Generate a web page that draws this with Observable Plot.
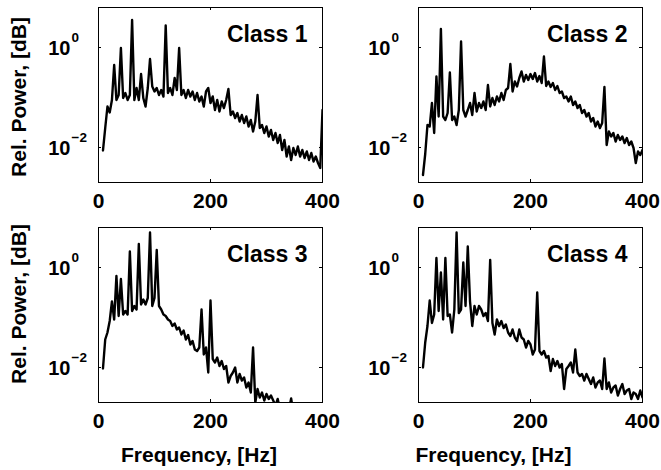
<!DOCTYPE html>
<html>
<head>
<meta charset="utf-8">
<script src="https://cdn.jsdelivr.net/npm/d3@7"></script>
<script src="https://cdn.jsdelivr.net/npm/@observablehq/plot@0.6"></script>
<style>
  html, body { margin: 0; padding: 0; background: #fff; }
  #fig { position: relative; width: 661px; height: 470px; overflow: hidden; background: #fff; }
  #fig svg { position: absolute; }
</style>
</head>
<body>
<div id="fig"></div>
<script>
// ---- data ----
const frequencyHz = [
  8, 12, 16, 20, 24, 28, 32, 36, 40, 44,
  48, 52, 56, 60, 64, 68, 72, 76, 80, 84,
  88, 92, 96, 100, 104, 108, 112, 116, 120, 124,
  128, 132, 136, 140, 144, 148, 152, 156, 160, 164,
  168, 172, 176, 180, 184, 188, 192, 196, 200, 204,
  208, 212, 216, 220, 224, 228, 232, 236, 240, 244,
  248, 252, 256, 260, 264, 268, 272, 276, 280, 284,
  288, 292, 296, 300, 304, 308, 312, 316, 320, 324,
  328, 332, 336, 340, 344, 348, 352, 356, 360, 364,
  368, 372, 376, 380, 384, 388, 392, 396, 400
];

// log10 of relative power, one value per frequency bin
const class1Log10Power = [
  -2.06, -1.61, -1.18, -1.30, -1.05, -0.35, -1.05, -0.95, -0.01, -1.01,
  -0.91, -1.05, -0.95, 0.55, -1.05, -0.81, -1.05, -0.53, -1.01, -1.18,
  -0.81, -0.23, -0.78, -0.88, -0.81, -0.95, -0.85, -0.98, 0.44, -0.91,
  -0.81, -0.95, -0.61, -0.85, -0.01, -0.95, -0.85, -1.01, -0.85, -0.98,
  -0.88, -1.05, -0.91, -1.08, -0.98, -1.18, -0.88, -0.81, -1.11, -0.98,
  -1.25, -1.05, -1.28, -1.08, -1.21, -1.05, -0.83, -1.35, -1.28, -1.41,
  -1.31, -1.48, -1.35, -1.51, -1.38, -1.58, -1.45, -1.68, -1.48, -0.95,
  -1.61, -1.55, -1.71, -1.58, -1.78, -1.65, -1.85, -1.71, -1.91, -1.75,
  -2.05, -1.85, -2.18, -1.98, -2.25, -2.01, -2.15, -1.98, -2.18, -2.05,
  -2.21, -2.08, -2.25, -2.11, -2.28, -2.18, -2.31, -2.41, -1.25
];
const class2Log10Power = [
  -2.55, -2.13, -1.55, -1.58, -1.11, -1.71, -0.58, -1.38, 0.37, -1.38,
  -1.45, -1.31, -0.50, -1.45, -1.38, -1.55, -1.25, 0.12, -1.25, -1.38,
  -1.25, -1.11, -1.35, -0.91, -1.28, -1.11, -1.21, -1.08, -1.25, -0.75,
  -1.18, -1.01, -1.15, -0.98, -1.08, -0.91, -1.05, -0.85, -0.81, -0.33,
  -0.88, -0.68, -0.78, -0.61, -0.48, -0.68, -0.55, -0.65, -0.53, -0.63,
  -0.51, -0.68, -0.57, -0.71, -0.18, -0.77, -0.68, -0.79, -0.71, -0.85,
  -0.77, -0.91, -0.88, -1.01, -0.98, -1.08, -0.98, -1.15, -1.08, -1.21,
  -1.15, -1.31, -1.25, -1.38, -1.31, -1.48, -1.41, -1.58, -1.48, -1.61,
  -1.51, -0.79, -1.95, -1.68, -1.78, -1.71, -1.88, -1.75, -1.85, -1.78,
  -1.91, -1.81, -1.95, -1.88, -2.01, -2.31, -2.08, -2.15, -2.05
];
const class3Log10Power = [
  -2.02, -1.44, -1.30, -1.07, -0.68, -1.04, -0.17, -0.97, -0.23, -0.94,
  -0.87, -0.94, 0.32, -0.87, -0.77, -0.84, 0.47, -0.74, -0.64, -0.74,
  -0.61, 0.70, -0.77, -0.61, 0.35, -0.77, -0.84, -0.94, -0.97, -1.04,
  -1.07, -1.17, -1.12, -1.24, -1.20, -1.34, -1.26, -1.44, -1.35, -1.54,
  -1.47, -1.64, -1.67, -1.60, -0.84, -1.74, -1.60, -2.10, -0.66, -1.83,
  -1.90, -1.80, -1.97, -1.87, -2.03, -1.97, -2.30, -2.17, -2.10, -2.00,
  -2.30, -2.13, -2.26, -2.20, -2.40, -2.30, -2.50, -1.60, -2.70, -2.43,
  -2.60, -2.50, -2.66, -2.53, -2.63, -2.56, -2.66, -2.76, -2.63, -2.83,
  -2.90, -2.80, -2.95, -2.85, -2.62, -2.90, -2.95, -3.00, -2.92, -3.05,
  -2.98, -3.10, -3.02, -3.08, -3.12, -3.05, -3.15, -3.10, -3.18
];
const class4Log10Power = [
  -2.00, -1.50, -1.17, -0.66, -1.11, -0.94, 0.19, -0.87, -0.10, -1.04,
  0.19, -0.97, -0.94, -1.30, -0.84, 0.70, -0.91, -0.84, 0.10, -0.77,
  0.42, -0.68, -1.17, -0.77, -0.94, -0.77, -0.84, -0.97, -0.91, -1.07,
  0.15, -1.11, -1.34, -1.04, -1.17, -1.07, -1.21, -1.14, -1.30, -1.37,
  -1.24, -1.40, -1.47, -1.24, -1.40, -1.44, -1.60, -1.47, -1.54, -1.74,
  -1.64, -0.50, -1.67, -1.74, -1.67, -1.80, -1.77, -2.07, -1.83, -1.97,
  -1.87, -2.00, -1.93, -2.43, -2.03, -1.97, -1.90, -2.10, -1.64, -2.10,
  -2.17, -2.13, -2.26, -2.13, -2.23, -2.33, -2.20, -2.40, -2.30, -2.26,
  -2.43, -1.82, -2.43, -2.30, -2.50, -2.40, -2.36, -2.56, -2.43, -2.33,
  -2.53, -2.46, -2.43, -2.63, -2.50, -2.53, -2.63, -2.46, -2.60
];

const classNames = ["Class 1", "Class 2", "Class 3", "Class 4"];
const classSeries = [class1Log10Power, class2Log10Power, class3Log10Power, class4Log10Power];
const xTicks = [0, 200, 400];
const xTickLabels = ["0", "200", "400"];
const yTicks = [1, 0.01];
const yTickBase = ["10", "10"];
const yTickExponent = ["0", "\u22122"];
const xDomain = [0, 400];
const yDomain = [Math.pow(10, -2.7), Math.pow(10, 0.8)];
const xLabel = "Frequency, [Hz]";
const yLabel = "Rel. Power, [dB]";

// ---- layout ----
const FONT = "'Liberation Sans', Arial, Helvetica, sans-serif";
const innerW = 224, innerH = 175;
const fig = document.getElementById("fig");

classNames.forEach((name, i) => {
  const col = i % 2, row = Math.floor(i / 2);
  const left = col ? 330 : 0;
  const top = row ? 220 : 0;
  const width = col ? 331 : 330;
  const height = row ? 250 : 220;
  const marginLeft = col ? 88 : 98;
  const marginTop = 7;
  const marginRight = width - marginLeft - innerW;
  const marginBottom = height - marginTop - innerH;

  const data = frequencyHz.map((f, j) => ({f, p: Math.pow(10, classSeries[i][j])}));

  const marks = [
    Plot.line(data, {x: "f", y: "p", stroke: "black", strokeWidth: 2.4, clip: true, strokeLinejoin: "round"}),
    Plot.frame({stroke: "black", strokeWidth: 1}),
    // inward ticks on all four sides
    Plot.tickX(xTicks, {x: d => d, insetTop: innerH - 3, stroke: "black"}),
    Plot.tickX(xTicks, {x: d => d, insetBottom: innerH - 3, stroke: "black"}),
    Plot.tickY(yTicks, {y: d => d, insetRight: innerW - 3, stroke: "black"}),
    Plot.tickY(yTicks, {y: d => d, insetLeft: innerW - 3, stroke: "black"}),
    // x tick labels
    Plot.text(xTicks, {x: d => d, text: (d, k) => xTickLabels[k], frameAnchor: "bottom", lineAnchor: "top",
      dy: 11, fontSize: 21, fontWeight: "bold"}),
    // y tick labels 10^e
    Plot.text(yTicks, {y: d => d, text: (d, k) => yTickBase[k], frameAnchor: "left", textAnchor: "end",
      lineAnchor: "middle", dx: -28, dy: 1, fontSize: 20, fontWeight: "bold"}),
    Plot.text(yTicks, {y: d => d, text: (d, k) => yTickExponent[k], frameAnchor: "left", textAnchor: "start",
      lineAnchor: "bottom", dx: -27, dy: -6, fontSize: 13.5, fontWeight: "bold"}),
    // class title
    Plot.text([name], {frameAnchor: "top-right", textAnchor: "end", lineAnchor: "bottom",
      dx: -15, dy: 34.5, fontSize: 23, fontWeight: "bold"})
  ];
  if (col === 0) {
    marks.push(Plot.text([yLabel], {frameAnchor: "left", rotate: -90, textAnchor: "middle", lineAnchor: "bottom",
      dx: -73, dy: row ? -11 : 2, fontSize: 21, fontWeight: "bold"}));
  }
  if (row === 1) {
    marks.push(Plot.text([xLabel], {frameAnchor: "bottom", textAnchor: "middle", lineAnchor: "top",
      dx: col ? -37 : -11.5, dy: 45, fontSize: 21, fontWeight: "bold"}));
  }

  const chart = Plot.plot({
    width, height, marginLeft, marginRight, marginTop, marginBottom,
    style: {fontFamily: FONT, background: "transparent", color: "black", overflow: "visible"},
    x: {domain: xDomain, axis: null},
    y: {type: "log", domain: yDomain, axis: null},
    marks
  });
  chart.style.left = left + "px";
  chart.style.top = top + "px";
  fig.appendChild(chart);
});
</script>
</body>
</html>
